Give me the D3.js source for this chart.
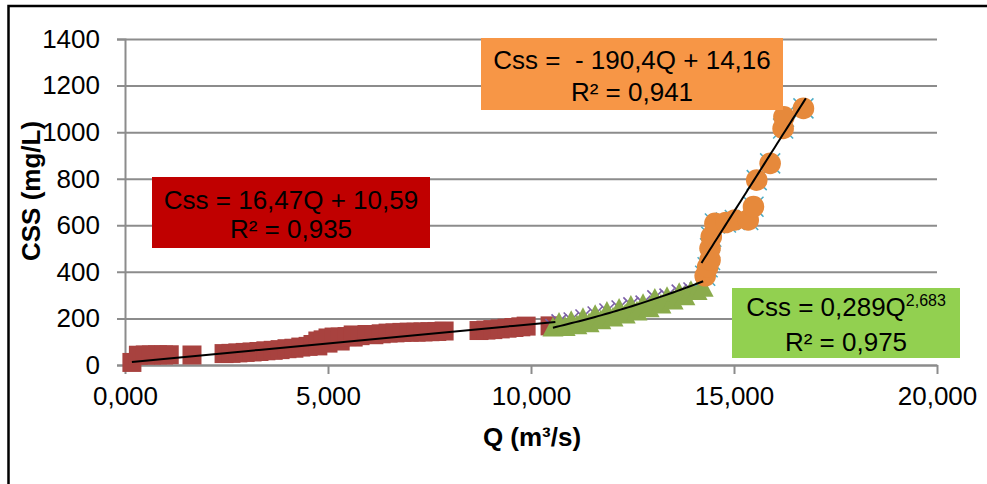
<!DOCTYPE html>
<html>
<head>
<meta charset="utf-8">
<script src="https://cdn.jsdelivr.net/npm/d3@7"></script>
<style>
body { margin: 0; background: #fff; }
svg text { font-family: "Liberation Sans", Arial, sans-serif; fill: #000; }
</style>
</head>
<body>
<svg width="987" height="484"></svg>
<script>
// values (Q in thousands, Css in mg/L)
var redQ = [0.17, 0.33, 0.50, 0.65, 0.80, 0.95, 1.09, 1.65,
  2.44, 2.61, 2.78, 2.96, 3.13, 3.30, 3.47, 3.65, 3.82, 3.99, 4.16, 4.33, 4.51, 4.63,
  4.75, 4.75, 4.88, 5.00, 5.00, 5.15, 5.30, 5.30, 5.47, 5.62, 5.62, 5.79, 5.96, 6.13,
  6.31, 6.48, 6.65, 6.82, 7.00, 7.17, 7.34, 7.51, 7.68, 7.86,
  8.72, 8.89, 9.06, 9.24, 9.41, 9.58, 9.75, 9.88, 10.47];
var redCss = [11, 42, 43, 43, 44, 43, 44, 43,
  49, 50, 52, 54, 56, 58, 61, 63, 66, 70, 72, 77, 80, 88,
  82, 103, 108, 94, 116, 120, 103, 120, 122, 120, 129, 126, 131, 130,
  134, 137, 138, 140, 141, 141, 142, 143, 144, 146,
  148, 150, 152, 155, 158, 161, 164, 167, 168];

var greenQ = [10.54, 10.69, 10.84, 10.99, 11.13, 11.28, 11.43, 11.58, 11.72, 11.87,
  12.02, 12.17, 12.32, 12.46, 12.61, 12.76, 12.91, 13.05, 13.20, 13.35, 13.50,
  13.65, 13.79, 13.94, 14.09, 14.24];
var greenCss = [165, 185, 167, 193, 174, 206, 183, 219, 196, 232,
  208, 245, 221, 258, 234, 266, 247, 288, 264, 296, 281,
  313, 299, 322, 322, 335];

var orangeQ = [14.29, 14.35, 14.41, 14.41, 14.44, 14.53, 14.80, 15.02, 15.35, 15.48,
  15.56, 15.89, 16.21, 16.23, 16.71];
var orangeCss = [383, 420, 451, 501, 551, 608, 612, 623, 623, 680,
  794, 866, 1016, 1066, 1102];

// trend lines: [a, b]
var redFit = [16.47, 10.59];      // a*Q + b
var greenFit = [0.289, 2.683];    // a*Q^b
var orangeFit = [275.1, -3468];   // a*Q + b (as drawn)

var xTicks = [0, 5, 10, 15, 20];
var yTicks = [0, 200, 400, 600, 800, 1000, 1200, 1400];

var svg = d3.select("svg");

var x = d3.scaleLinear().domain([0, 20]).range([125, 937]);
var y = d3.scaleLinear().domain([0, 1400]).range([365, 39]);

var ptBR = d3.formatLocale({decimal: ",", thousands: ".", grouping: [3], currency: ["", ""]});
var fmtX = ptBR.format(".3f");

// outer frame
svg.append("rect")
  .attr("x", 8.5).attr("y", 6).attr("width", 1100).attr("height", 600)
  .attr("fill", "none").attr("stroke", "#000").attr("stroke-width", 2.5);

var gridCol = "#8c8c8c";

var gy = svg.append("g").attr("transform", "translate(125,0)")
  .call(d3.axisLeft(y).tickValues(yTicks).tickSize(8).tickPadding(17).tickFormat(d3.format("d")));
gy.select(".domain").attr("stroke", gridCol).attr("stroke-width", 2);
gy.selectAll(".tick line").attr("x1", -8).attr("x2", 812).attr("stroke", gridCol).attr("stroke-width", 2);
gy.selectAll("text").style("font-size", "26px");

var gx = svg.append("g").attr("transform", "translate(0,365)")
  .call(d3.axisBottom(x).tickValues(xTicks).tickSize(9).tickSizeOuter(0).tickPadding(13).tickFormat(fmtX));
gx.select(".domain").attr("stroke", gridCol).attr("stroke-width", 2);
gx.selectAll(".tick line").attr("stroke", gridCol).attr("stroke-width", 2);
gx.selectAll("text").style("font-size", "26px");

svg.append("text")
  .attr("transform", "translate(40,191) rotate(-90)")
  .attr("text-anchor", "middle")
  .style("font-size", "26px").style("font-weight", "bold")
  .text("CSS (mg/L)");

svg.append("text")
  .attr("x", 532).attr("y", 446)
  .attr("text-anchor", "middle")
  .style("font-size", "26px").style("font-weight", "bold")
  .text("Q (m³/s)");

// marker shapes
var triType = {
  draw: function(ctx, size) {
    var s = Math.sqrt(size);
    ctx.moveTo(0, -s * 0.47);
    ctx.lineTo(s * 0.5, s * 0.47);
    ctx.lineTo(-s * 0.5, s * 0.47);
    ctx.closePath();
  }
};
var starType = {
  draw: function(ctx, size) {
    var r = Math.sqrt(size) / 2;
    ctx.moveTo(-r, -r); ctx.lineTo(r, r);
    ctx.moveTo(r, -r); ctx.lineTo(-r, r);
    ctx.moveTo(0, -r); ctx.lineTo(0, r);
  }
};

var redPts = redQ.map(function(q, i) { return [q, redCss[i]]; });
var greenPts = greenQ.map(function(q, i) { return [q, greenCss[i]]; });
var orangePts = orangeQ.map(function(q, i) { return [q, orangeCss[i]]; });

function markers(pts, type, size, fill, stroke, sw) {
  svg.append("g").selectAll("path").data(pts).join("path")
    .attr("transform", function(d) { return "translate(" + x(d[0]) + "," + y(d[1]) + ")"; })
    .attr("d", d3.symbol(type, size))
    .attr("fill", fill)
    .attr("stroke", stroke)
    .attr("stroke-width", sw);
}

markers(redPts, d3.symbolSquare, 19 * 19, "#a8423f", "none", 0);
markers(greenPts, starType, 15 * 15, "none", "#7b5ea7", 1.6);
markers(greenPts, triType, 21 * 21, "#8aab4c", "none", 0);
markers(orangePts, starType, 20 * 20, "none", "#4bacc6", 1.5);
markers(orangePts, d3.symbolCircle, Math.PI * 10.8 * 10.8, "#e6893b", "none", 0);

// trend lines
var line = d3.line().x(function(d) { return x(d[0]); }).y(function(d) { return y(d[1]); });

function trend(ext, f) {
  var pts = d3.range(0, 41).map(function(i) {
    var q = ext[0] + (ext[1] - ext[0]) * i / 40;
    return [q, f(q)];
  });
  svg.append("path").attr("d", line(pts))
    .attr("fill", "none").attr("stroke", "#000").attr("stroke-width", 2);
}
trend([redQ[0], 10.6], function(q) { return redFit[0] * q + redFit[1]; });
trend(d3.extent(greenQ), function(q) { return greenFit[0] * Math.pow(q, greenFit[1]); });
trend([14.2, 16.77], function(q) { return orangeFit[0] * q + orangeFit[1]; });

// equation labels
function label(bx, by, bw, bh, col, lines, ly) {
  var g = svg.append("g");
  g.append("rect").attr("x", bx).attr("y", by).attr("width", bw).attr("height", bh).attr("fill", col);
  lines.forEach(function(t, i) {
    var tx = g.append("text").attr("x", bx + bw / 2).attr("y", ly[i])
      .attr("text-anchor", "middle").style("font-size", "26px")
      .style("white-space", "pre").attr("xml:space", "preserve");
    if (typeof t === "string") tx.text(t);
    else {
      tx.append("tspan").text(t[0]);
      tx.append("tspan").attr("dy", -10).style("font-size", "16px").text(t[1]);
    }
  });
}
label(152, 177, 278, 71, "#c00000", ["Css = 16,47Q + 10,59", "R² = 0,935"], [209, 238]);
label(481, 38, 302, 72, "#f79646", ["Css =  - 190,4Q + 14,16", "R² = 0,941"], [69, 101]);
label(732, 288, 228, 70, "#92d050", [["Css = 0,289Q", "2,683"], "R² = 0,975"], [316, 351]);
</script>
</body>
</html>
